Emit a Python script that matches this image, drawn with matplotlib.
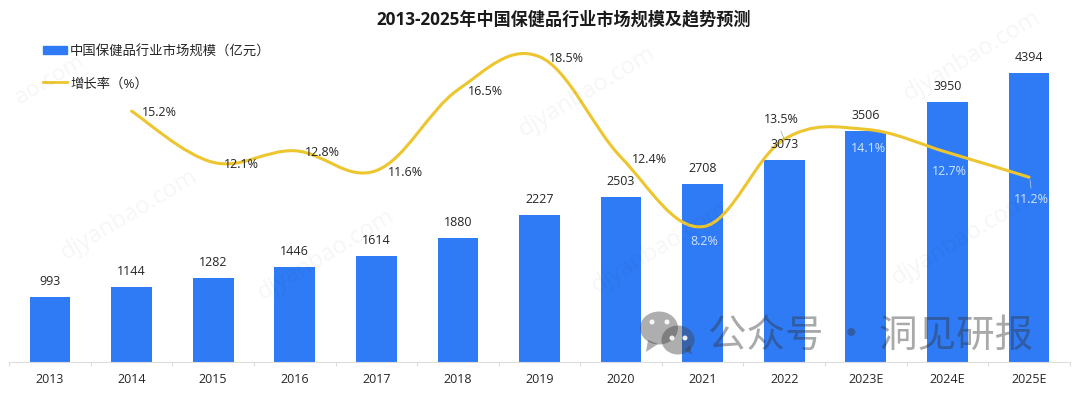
import numpy as np
from matplotlib import pyplot as plt
from matplotlib.patches import Ellipse, PathPatch, Polygon
from matplotlib.lines import Line2D
from matplotlib.path import Path

plt.rcParams['font.family'] = ['Open Sans', 'Noto Sans CJK SC', 'DejaVu Sans']

years = ['2013', '2014', '2015', '2016', '2017', '2018', '2019', '2020', '2021', '2022', '2023E', '2024E', '2025E']
market = [993, 1144, 1282, 1446, 1614, 1880, 2227, 2503, 2708, 3073, 3506, 3950, 4394]
growth = [15.2, 12.1, 12.8, 11.6, 16.5, 18.5, 12.4, 8.2, 13.5, 14.1, 12.7, 11.2]

BLUE = '#2f7bf6'
YELLOW = '#edc52e'
TEXT = '#262626'
W, H = 1080, 393

# label offsets in pixels from the point, per growth value
growth_off = [(28, -1), (28, -2), (28, -2), (29, -2), (28, -2), (27, -2), (28, -2),
              (2, -15), (-3, 20), (3, -19), (2, -19), (2, -22)]
growth_col = [TEXT] * 7 + ['#cfe3ff', TEXT, '#cfe3ff', '#cfe3ff', '#cfe3ff']

fig = plt.figure(figsize=(W / 100, H / 100), dpi=100)
ax = fig.add_axes([9.2 / W, (H - 362) / H, 1060.6 / W, 332 / H])
x = np.arange(len(years))
ax.bar(x, market, width=0.5, color=BLUE, zorder=2)
ax.set_xlim(-0.5, 12.5)
ax.set_ylim(0, 5046)
ax.set_xticks(x)
ax.set_xticklabels(years, fontsize=9, color=TEXT)
ax.set_xticks(np.arange(-0.5, 13), minor=True)
ax.tick_params(axis='x', which='major', length=0, pad=8)
ax.tick_params(axis='x', which='minor', length=3, color='#dddddd', width=0.8)
ax.set_yticks([])
for s in ['top', 'left', 'right']:
    ax.spines[s].set_visible(False)
ax.spines['bottom'].set_color('#dddddd')

# growth line, smoothed the way office charts do it (bezier through the points)
ax2 = ax.twinx()
ax2.set_ylim(0, 20.12)
ax2.set_yticks([])
ax2.patch.set_visible(False)
for s in ax2.spines.values():
    s.set_visible(False)
lx = x[1:].astype(float)
ly = np.array(growth)
verts = [(lx[0], ly[0])]
codes = [Path.MOVETO]
k = 0.18
for i in range(len(lx) - 1):
    p0 = max(i - 1, 0)
    p3 = min(i + 2, len(lx) - 1)
    verts.append((lx[i] + (lx[i + 1] - lx[p0]) * k, ly[i] + (ly[i + 1] - ly[p0]) * k))
    verts.append((lx[i + 1] - (lx[p3] - lx[i]) * k, ly[i + 1] - (ly[p3] - ly[i]) * k))
    verts.append((lx[i + 1], ly[i + 1]))
    codes += [Path.CURVE4] * 3
ax2.add_patch(PathPatch(Path(verts, codes), fill=False, edgecolor=YELLOW, lw=2.2, zorder=3, capstyle='round'))

# bar labels go on ax2 so they stay above the line
for i, v in enumerate(market):
    ax2.annotate(str(v), (i, v), xycoords=ax.transData, xytext=(0, 15.5), textcoords='offset pixels', ha='center',
                 va='center', fontsize=9, color=TEXT, zorder=5)
for i, v in enumerate(growth):
    ax2.annotate('%.1f%%' % v, (lx[i], v), xytext=growth_off[i], textcoords='offset pixels', ha='center',
                 va='center', fontsize=9, color=growth_col[i], zorder=5)

# pixel overlay for title, legend and watermarks
ov = fig.add_axes([0, 0, 1, 1], zorder=10)
ov.set_xlim(0, W)
ov.set_ylim(H, 0)
ov.axis('off')
ov.text(564, 19, '2013-2025年中国保健品行业市场规模及趋势预测', ha='center', va='center', fontsize=12.3, fontweight='bold', color='#1a1a1a')

ov.add_patch(Polygon([(43, 46), (67, 46), (67, 54), (43, 54)], color=BLUE))
ov.text(70, 52, '中国保健品行业市场规模（亿元）', va='center', fontsize=9.6, color=TEXT)
ov.add_line(Line2D([43, 67], [82, 82], color=YELLOW, lw=2))
ov.text(70, 84, '增长率（%）', va='center', fontsize=9.6, color=TEXT)

# leader lines
ov.add_line(Line2D([781, 784], [131, 139], color='#999999', lw=0.5))
ov.add_line(Line2D([1030, 1031], [180, 188], color='#bcd4f5', lw=0.5))

# faint site watermarks
ov.text(50, 80, 'ao.com', rotation=31, ha='center', va='center', fontsize=16, color='black', alpha=0.04)
for wx, wy in [(129, 215), (326, 255), (587, 92), (972, 56), (660, 248), (960, 240)]:
    ov.text(wx, wy, 'djyanbao.com', rotation=31, ha='center', va='center', fontsize=17, color='black', alpha=0.04)

# wechat mark and account name
gray = (0.25, 0.25, 0.25, 0.42)
ov.add_patch(Ellipse((659, 328), 38, 33, color=gray, lw=0))
ov.add_patch(Polygon([(648, 340), (646, 352), (658, 344)], color=gray, lw=0))
ov.add_patch(Ellipse((678, 340), 33, 29, color=gray, lw=0))
ov.add_patch(Polygon([(685, 350), (692, 355), (690, 345)], color=gray, lw=0))
for ex, ey in [(652, 322), (667, 322), (672, 338), (685, 338)]:
    ov.add_patch(Ellipse((ex, ey), 5, 5, color='white', alpha=0.9, lw=0))
ov.text(708, 336, '公众号 · 洞见研报', va='center', fontsize=27.7, family=['Noto Sans CJK SC', 'DejaVu Sans'],
        color=(0.2, 0.2, 0.2, 0.42))

fig.savefig('out.png', dpi=100)
